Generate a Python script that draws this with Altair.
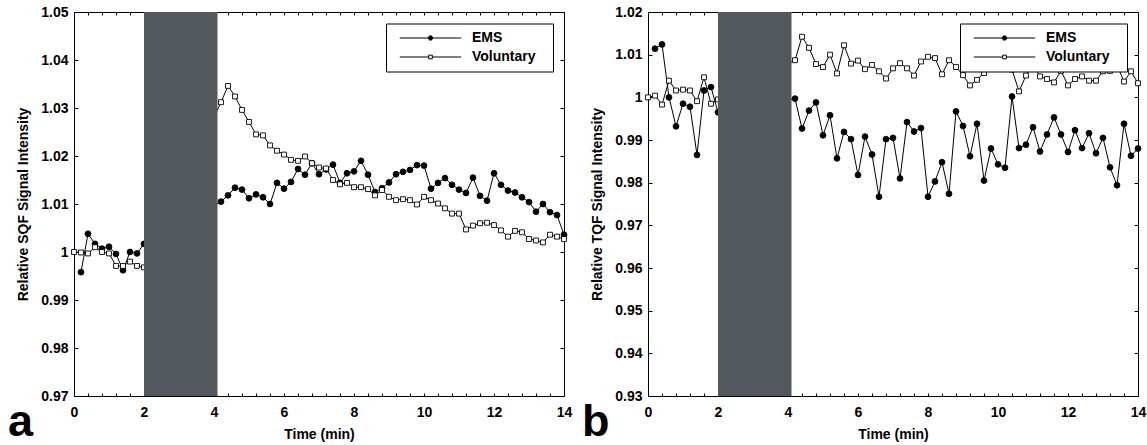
import altair as alt
import pandas as pd

FONT = "Liberation Sans"
SERIES = ["EMS", "Voluntary"]
GAP_START = [2.0]
GAP_END = [4.1]

T_PRE_EMS = [0.2, 0.4, 0.6, 0.8, 1.0, 1.2, 1.4, 1.6, 1.8, 2.0]
T_PRE_VOL = [0.0, 0.2, 0.4, 0.6, 0.8, 1.0, 1.2, 1.4, 1.6, 1.8, 2.0]
T_POST = [4.2, 4.4, 4.6, 4.8, 5.0, 5.2, 5.4, 5.6, 5.8, 6.0,
          6.2, 6.4, 6.6, 6.8, 7.0, 7.2, 7.4, 7.6, 7.8, 8.0,
          8.2, 8.4, 8.6, 8.8, 9.0, 9.2, 9.4, 9.6, 9.8, 10.0,
          10.2, 10.4, 10.6, 10.8, 11.0, 11.2, 11.4, 11.6, 11.8, 12.0,
          12.2, 12.4, 12.6, 12.8, 13.0, 13.2, 13.4, 13.6, 13.8, 14.0]

# Panel a: SQF
SQF_EMS_PRE = [0.9958, 1.0038, 1.0017, 1.0007, 1.0011, 0.9996, 0.9962, 1.0000, 0.9997, 1.0017]
SQF_EMS_POST = [1.0105, 1.0118, 1.0134, 1.0130, 1.0112, 1.0120, 1.0114, 1.0100, 1.0144, 1.0132,
                1.0146, 1.0173, 1.0161, 1.0185, 1.0162, 1.0172, 1.0182, 1.0144, 1.0164, 1.0168,
                1.0190, 1.0161, 1.0125, 1.0133, 1.0145, 1.0162, 1.0167, 1.0171, 1.0181, 1.0180,
                1.0132, 1.0144, 1.0154, 1.0140, 1.0130, 1.0123, 1.0155, 1.0117, 1.0107, 1.0164,
                1.0140, 1.0128, 1.0124, 1.0114, 1.0104, 1.0084, 1.0100, 1.0083, 1.0077, 1.0036]
SQF_VOL_PRE = [1.0000, 0.9999, 0.9997, 1.0010, 1.0000, 0.9997, 0.9971, 0.9971, 0.9980, 0.9971, 0.9968]
SQF_VOL_POST = [1.0312, 1.0346, 1.0324, 1.0296, 1.0271, 1.0245, 1.0243, 1.0222, 1.0211, 1.0203,
                1.0192, 1.0190, 1.0199, 1.0185, 1.0176, 1.0174, 1.0150, 1.0141, 1.0144, 1.0135,
                1.0135, 1.0131, 1.0118, 1.0129, 1.0115, 1.0108, 1.0110, 1.0108, 1.0099, 1.0115,
                1.0108, 1.0101, 1.0091, 1.0080, 1.0080, 1.0047, 1.0055, 1.0060, 1.0061, 1.0056,
                1.0045, 1.0032, 1.0044, 1.0041, 1.0027, 1.0024, 1.0020, 1.0036, 1.0032, 1.0027]

# Panel b: TQF
TQF_EMS_PRE = [1.0114, 1.0124, 1.0000, 0.9932, 0.9985, 0.9978, 0.9865, 1.0016, 1.0024, 0.9965]
TQF_EMS_POST = [0.9997, 0.9927, 0.9969, 0.9988, 0.9911, 0.9958, 0.9857, 0.9919, 0.9902, 0.9818,
                0.9908, 0.9866, 0.9767, 0.9902, 0.9905, 0.9810, 0.9942, 0.9920, 0.9928, 0.9767,
                0.9803, 0.9848, 0.9774, 0.9967, 0.9933, 0.9862, 0.9938, 0.9805, 0.9880, 0.9843,
                0.9835, 1.0002, 0.9881, 0.9889, 0.9930, 0.9873, 0.9913, 0.9953, 0.9913, 0.9872,
                0.9923, 0.9881, 0.9916, 0.9869, 0.9905, 0.9836, 0.9794, 0.9938, 0.9863, 0.9880]
TQF_VOL_PRE = [1.0000, 1.0004, 0.9983, 1.0039, 1.0016, 1.0018, 1.0016, 0.9991, 1.0047, 0.9985, 0.9995]
TQF_VOL_POST = [1.0087, 1.0142, 1.0116, 1.0078, 1.0071, 1.0100, 1.0056, 1.0122, 1.0079, 1.0086,
                1.0066, 1.0076, 1.0061, 1.0044, 1.0068, 1.0080, 1.0068, 1.0051, 1.0084, 1.0095,
                1.0092, 1.0054, 1.0087, 1.0071, 1.0052, 1.0028, 1.0041, 1.0057, 1.0085, 1.0080,
                1.0078, 1.0065, 1.0014, 1.0051, 1.0076, 1.0049, 1.0043, 1.0035, 1.0062, 1.0028,
                1.0043, 1.0049, 1.0039, 1.0039, 1.0061, 1.0062, 1.0076, 1.0037, 1.0061, 1.0033]

X_DOMAIN = [0, 14]
X_TICKS = [round(i * 0.4, 1) for i in range(36)]
SQF_DOMAIN = [0.97, 1.05]
SQF_TICKS = [0.97, 0.98, 0.99, 1.0, 1.01, 1.02, 1.03, 1.04, 1.05]
TQF_DOMAIN = [0.93, 1.02]
TQF_TICKS = [0.93, 0.94, 0.95, 0.96, 0.97, 0.98, 0.99, 1.0, 1.01, 1.02]

W, H = 490, 384
GRAY = "#53575e"

# legend glyphs: a line with the marker in its middle (symbol units, 7 px each)
EMS_SYM = "M-4.39,0H4.39M0.31,0A0.31,0.31,0,1,1,-0.31,0A0.31,0.31,0,1,1,0.31,0Z"
VOL_SYM = "M-4.39,0H-0.26M0.26,0H4.39M-0.26,-0.26H0.26V0.26H-0.26Z"


def make_df(ems_pre, ems_post, vol_pre, vol_post):
    rows = []
    for t, v in zip(T_PRE_EMS + T_POST, ems_pre + ems_post):
        rows.append({"time": t, "value": v, "series": "EMS"})
    for t, v in zip(T_PRE_VOL + T_POST, vol_pre + vol_post):
        rows.append({"time": t, "value": v, "series": "Voluntary"})
    return pd.DataFrame(rows)


def panel(df, ydom, yticks, ytitle, letter):
    xscale = alt.Scale(domain=X_DOMAIN, nice=False, zero=False)
    yscale = alt.Scale(domain=ydom, nice=False, zero=False)
    x_bottom = alt.Axis(values=X_TICKS,
                        labelExpr="datum.value % 2 === 0 ? format(datum.value, 'd') : ''",
                        tickSize=3, offset=-3, domain=False, labelPadding=9, labelFlush=False,
                        title="Time (min)", titlePadding=8, grid=False)
    y_left = alt.Axis(values=yticks, format=".2~f", tickSize=4, offset=-4, domain=False,
                      labelPadding=6, title=ytitle, titlePadding=10, grid=False, labelFlush=False)
    x_top = alt.Axis(orient="top", values=X_TICKS, labels=False, tickSize=3, offset=-3,
                     domain=False, title=None, grid=False)
    y_right = alt.Axis(orient="right", values=yticks, labels=False, tickSize=4, offset=-4,
                       domain=False, title=None, grid=False)

    legend = alt.Legend(
        title=None, orient="none", legendX=312, legendY=11.5, padding=7, symbolOffset=30,
        rowPadding=4, labelOffset=34, labelFont=FONT, labelFontSize=14, labelFontWeight="bold",
        labelColor="black", fillColor="white", strokeColor="black",
        labelExpr="datum.label + '\u2800'", symbolSize=196,
        symbolStrokeWidth=1, symbolOpacity=1,
    )

    base = alt.Chart(df)
    xenc = alt.X("time:Q", scale=xscale, axis=None)
    yenc = alt.Y("value:Q", scale=yscale, axis=None)
    line = base.mark_line(color="black", strokeWidth=1).encode(
        x=alt.X("time:Q", scale=xscale, axis=x_bottom),
        y=alt.Y("value:Q", scale=yscale, axis=y_left),
        detail="series:N",
        order="time:Q",
    )
    ems_pts = base.transform_filter("datum.series === 'EMS'").mark_point(
        shape="circle", filled=True, fill="black", stroke="black", strokeWidth=0.9,
        size=34, opacity=1).encode(x=xenc, y=yenc)
    vol_pts = base.transform_filter("datum.series === 'Voluntary'").mark_point(
        shape="square", filled=True, fill="white", stroke="black", strokeWidth=0.9,
        size=24, opacity=1).encode(x=xenc, y=yenc)
    key = base.transform_filter("false").mark_point(filled=True, opacity=1).encode(
        x=xenc, y=yenc,
        shape=alt.Shape("series:N", scale=alt.Scale(domain=SERIES, range=[EMS_SYM, VOL_SYM]),
                        legend=legend),
        fill=alt.Fill("series:N", scale=alt.Scale(domain=SERIES, range=["black", "white"]),
                      legend=legend),
        stroke=alt.Stroke("series:N", scale=alt.Scale(domain=SERIES, range=["black", "black"]),
                          legend=legend),
    )
    gap_df = pd.DataFrame({"start": GAP_START, "end": GAP_END,
                           "lo": [ydom[0]], "hi": [ydom[1]]})
    rect = alt.Chart(gap_df).mark_rect(color=GRAY, opacity=1).encode(
        x=alt.X("start:Q", scale=xscale, axis=x_top),
        x2="end:Q",
        y=alt.Y("lo:Q", scale=yscale, axis=y_right),
        y2="hi:Q",
    )
    lab = alt.Chart(pd.DataFrame({"letter": [letter]})).mark_text(
        font=FONT, fontSize=45, fontWeight="bold", align="left", baseline="alphabetic",
        color="black").encode(x=alt.value(-66), y=alt.value(424), text="letter:N")

    return alt.layer(line, ems_pts, vol_pts, rect, key, lab).resolve_axis(
        x="independent", y="independent").properties(width=W, height=H)


left = panel(make_df(SQF_EMS_PRE, SQF_EMS_POST, SQF_VOL_PRE, SQF_VOL_POST),
             SQF_DOMAIN, SQF_TICKS, "Relative SQF Signal Intensity", "a")
right = panel(make_df(TQF_EMS_PRE, TQF_EMS_POST, TQF_VOL_PRE, TQF_VOL_POST),
              TQF_DOMAIN, TQF_TICKS, "Relative TQF Signal Intensity", "b")

chart = alt.hconcat(left, right, spacing=84, bounds="flush").resolve_scale(
    shape="independent", fill="independent", stroke="independent"
).properties(
    padding={"left": 7, "top": 4, "right": 0, "bottom": 0}
).configure_view(
    stroke="black", strokeWidth=1
).configure_axis(
    labelFont=FONT, labelFontSize=14, labelFontWeight="bold", labelColor="black",
    titleFont=FONT, titleFontSize=14, titleFontWeight="bold", titleColor="black",
    tickColor="black", tickWidth=1
)

chart.save("out.html", embed_options={"renderer": "svg", "actions": False})
